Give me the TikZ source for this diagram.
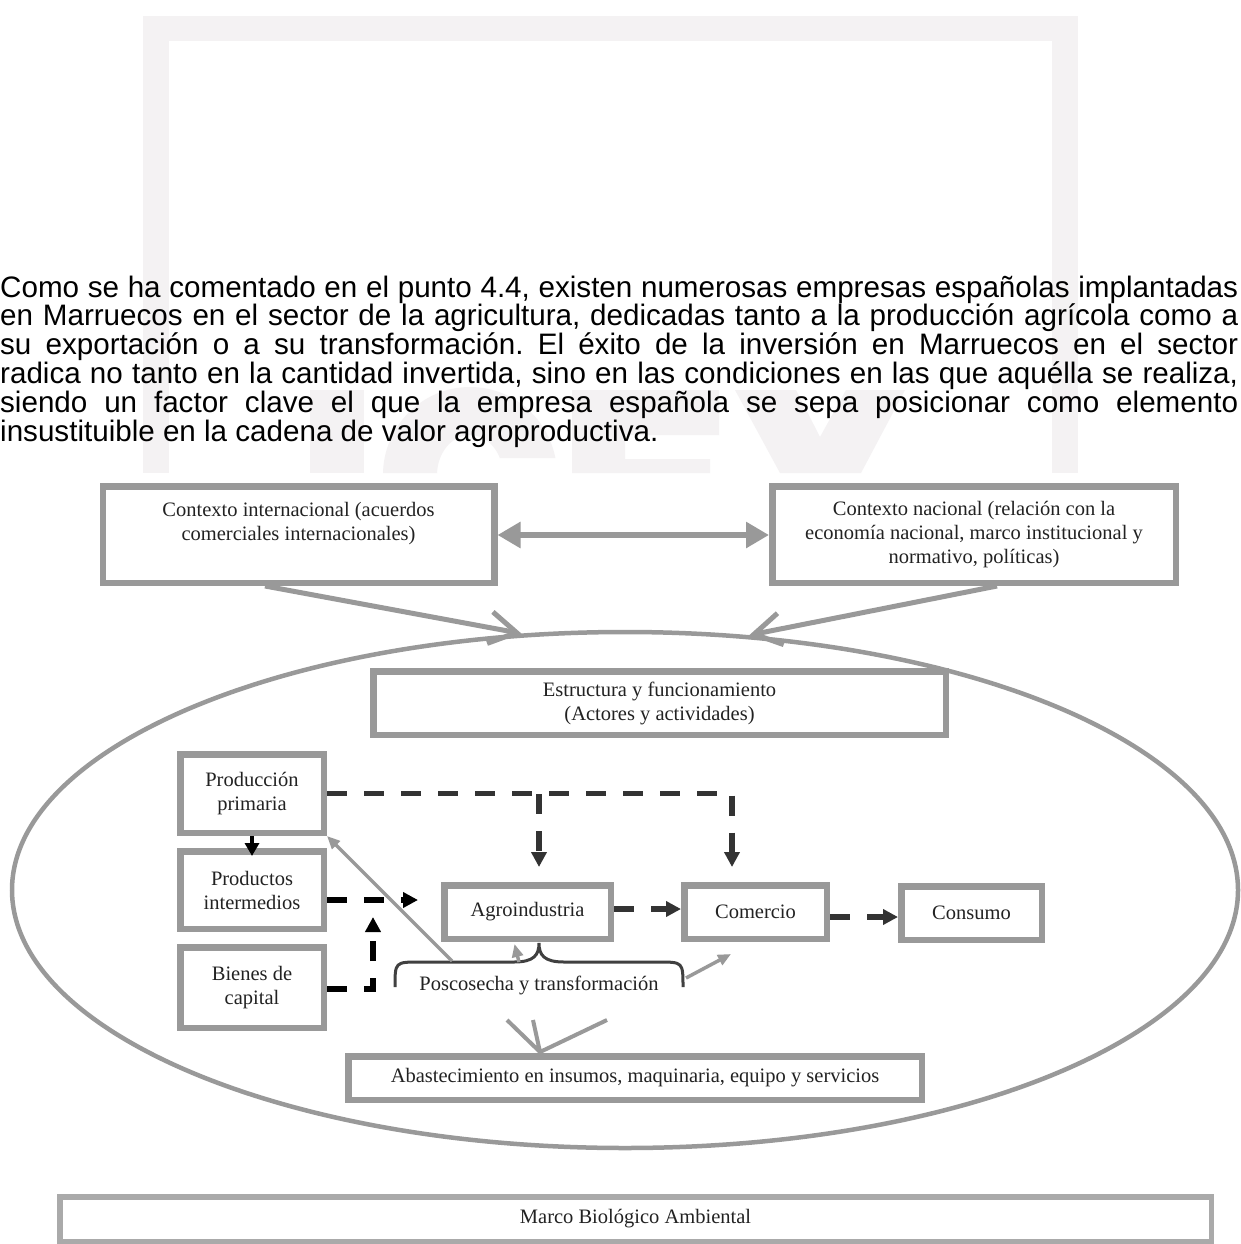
\documentclass[tikz,border=0pt]{standalone}
\usepackage{fontspec}
\setmainfont{Liberation Serif}
\newfontfamily\parafont{Liberation Sans}
\usetikzlibrary{arrows.meta,shapes.geometric,calc}
\definecolor{boxgray}{RGB}{153,153,153}
\definecolor{wmc}{RGB}{244,242,243}
\definecolor{dk}{RGB}{51,51,51}
\definecolor{bracec}{RGB}{64,64,64}
\definecolor{marcoc}{RGB}{170,170,170}
\definecolor{txtc}{RGB}{34,34,34}
\tikzset{
  box/.style={draw=boxgray, line width=6.5pt, fill=white, inner sep=0pt, align=center, text=txtc, font=\fontsize{20.5}{24}\selectfont},
  lbl/.style={inner sep=0pt, align=center, text=txtc, font=\fontsize{20.5}{24}\selectfont},
  wmark/.style={fill=wmc, draw=none},
  dsh/.style={draw=dk, line width=5.5pt, dash pattern=on 20pt off 17pt, -{Triangle[length=15pt,width=15pt]}},
  dshk/.style={dsh, draw=black},
  garrow/.style={draw=boxgray, line width=3.5pt, -{Triangle[length=13pt,width=11pt]}},
  oarrow/.style={draw=boxgray, line width=5pt, -{Straight Barb[length=27pt,width=32pt]}},
}
\begin{document}
\frenchspacing
\begin{tikzpicture}[x=1pt,y=-1pt]
\useasboundingbox (0,0) rectangle (1240,1244);
\fill[white] (0,0) rectangle (1240,1244);
% watermark
\fill[wmark] (143,16) rectangle (169,473);
\fill[wmark] (143,16) rectangle (1078,41);
\fill[wmark] (1052,19) rectangle (1078,473);
\fill[wmark] (310,390) rectangle (364,473);
\begin{scope}
  \clip (380,380) -- (560,380) -- (560,458) -- (470,458) -- (470,473) -- (380,473) -- cycle;
  \fill[wmark, even odd rule] (470,475) ellipse [x radius=87pt, y radius=88pt]
                              (470,475) ellipse [x radius=33pt, y radius=40pt];
\end{scope}
\fill[wmark] (572,390) -- (719,390) -- (719,435) -- (625,435) -- (625,459) -- (710,459) -- (710,473) -- (572,473) -- cycle;
\fill[wmark] (735,390) -- (796,390) -- (820,437) -- (846,390) -- (905,390) -- (861,473) -- (780,473) -- cycle;

% paragraph
\node[anchor=north west, inner sep=0pt, align=left, font=\parafont\fontsize{29.6}{28.8}\selectfont] (para) at (0,275.5)
{\makebox[1238pt][s]{Como se ha comentado en el punto 4.4, existen numerosas empresas españolas implantadas}\\
\makebox[1238pt][s]{en Marruecos en el sector de la agricultura, dedicadas tanto a la producción agrícola como a}\\
\makebox[1238pt][s]{su exportación o a su transformación. El éxito de la inversión en Marruecos en el sector}\\
\makebox[1238pt][s]{radica no tanto en la cantidad invertida, sino en las condiciones en las que aquélla se realiza,}\\
\makebox[1238pt][s]{siendo un factor clave el que la empresa española se sepa posicionar como elemento}\\
insustituible en la cadena de valor agroproductiva.};

% ellipse
\node[ellipse, draw=boxgray, line width=4.5pt, minimum width=1226pt, minimum height=516pt, inner sep=0pt] (ell) at (625,890) {};

% top boxes
\node[box, minimum width=391.5pt, minimum height=96.5pt] (intl) at (298.5,534.5) {};
\node[lbl] (intltxt) at (298.5,523.5) {Contexto internacional (acuerdos\\comerciales internacionales)};
\node[box, minimum width=403.5pt, minimum height=96.5pt] (nac) at (974,534.5)
  {Contexto nacional (relación con la\\economía nacional, marco institucional y\\normativo, políticas)};
\draw[draw=boxgray, line width=6pt, {Triangle[length=23pt,width=25pt]}-{Triangle[length=23pt,width=25pt]}]
  ($(intl.east)+(0,0.5)$) -- ($(nac.west)+(0,0.5)$);
\draw[oarrow] ($(intl.south)+(-33.5,0)$) -- (ell.112.8);
\draw[oarrow] ($(nac.south)+(23,0)$) -- (ell.64.4);

% inner boxes
\node[box, minimum width=572.5pt, minimum height=63.5pt] (est) at (659.5,703)
  {Estructura y funcionamiento\\(Actores y actividades)};
\node[box, minimum width=143.5pt, minimum height=78.5pt] (prim) at (252,793.5) {Producción\\primaria};
\node[box, minimum width=143.5pt, minimum height=77.5pt] (prod) at (252,890) {Productos\\intermedios};
\node[box, minimum width=143.5pt, minimum height=80.5pt] (bien) at (252,987.5) {Bienes de\\capital};
\node[box, minimum width=166.5pt, minimum height=53.5pt] (agro) at (527.5,912) {Agroindustria};
\node[box, minimum width=142.5pt, minimum height=53.5pt] (com) at (755.5,912) {Comercio};
\node[box, minimum width=140.5pt, minimum height=53.5pt] (cons) at (971.5,913) {Consumo};
\node[box, minimum width=573.5pt, minimum height=43.5pt] (abast) at (635,1078)
  {Abastecimiento en insumos, maquinaria, equipo y servicios};
\node[box, draw=marcoc, line width=5.5pt, minimum width=1151.5pt, minimum height=44.5pt] (marco) at (635.5,1219)
  {Marco Biológico Ambiental};

% dashed flows
\coordinate (jA) at ($(agro.north)+(11.5,-88)$);
\draw[dsh] (prim.east) -| ($(com.north)+(-23.5,-15)$);
\draw[dsh] (jA) -- ($(agro.north)+(11.5,-15)$);
\draw[draw=black, line width=4pt, -{Triangle[length=13pt,width=14pt]}] (prim.south) -- ($(prod.north)+(0,8)$);
\draw[dshk] ($(prod.east)+(0,10)$) -- ($(agro.west)+(-23,-12)$);
\draw[dshk] ($(bien.east)+(0,1.5)$) -| ($(prod.east)+(46,27)$);
\draw[dsh] ($(agro.east)+(0,-3)$) -- ($(com.west)+(0,-3)$);
\draw[dsh] ($(com.east)+(0,5)$) -- ($(cons.west)+(0,4)$);

% brace and label
\draw[bracec, line width=3pt] (395,987) .. controls (395,962) and (395,962) .. (420,962) -- (514,962)
  .. controls (534,962) and (539,955) .. (539,943)
  .. controls (539,955) and (544,962) .. (564,962) -- (658,962)
  .. controls (683,962) and (683,962) .. (683,987);
\node[lbl] (posc) at (539,985) {Poscosecha y transformación};

% gray connectors from the brace
\coordinate (braceL) at (452,961);
\coordinate (braceA) at (519,962);
\coordinate (braceR) at (686,978);
\draw[garrow] (braceL) -- (prim.south east);
\draw[garrow] (braceA) -- ($(agro.south)+(-13,2)$);
\draw[garrow] (braceR) -- ($(com.south west)+(50,12)$);
\coordinate (vtip) at ($(abast.north west)+(195,-1)$);
\coordinate (vs) at (607,1020);
\coordinate (vb1) at (507,1020);
\coordinate (vb2) at (533,1020);
\draw[draw=boxgray, line width=4pt] (vs) -- (vtip) (vb1) -- (vtip) -- (vb2);
\end{tikzpicture}
\end{document}
